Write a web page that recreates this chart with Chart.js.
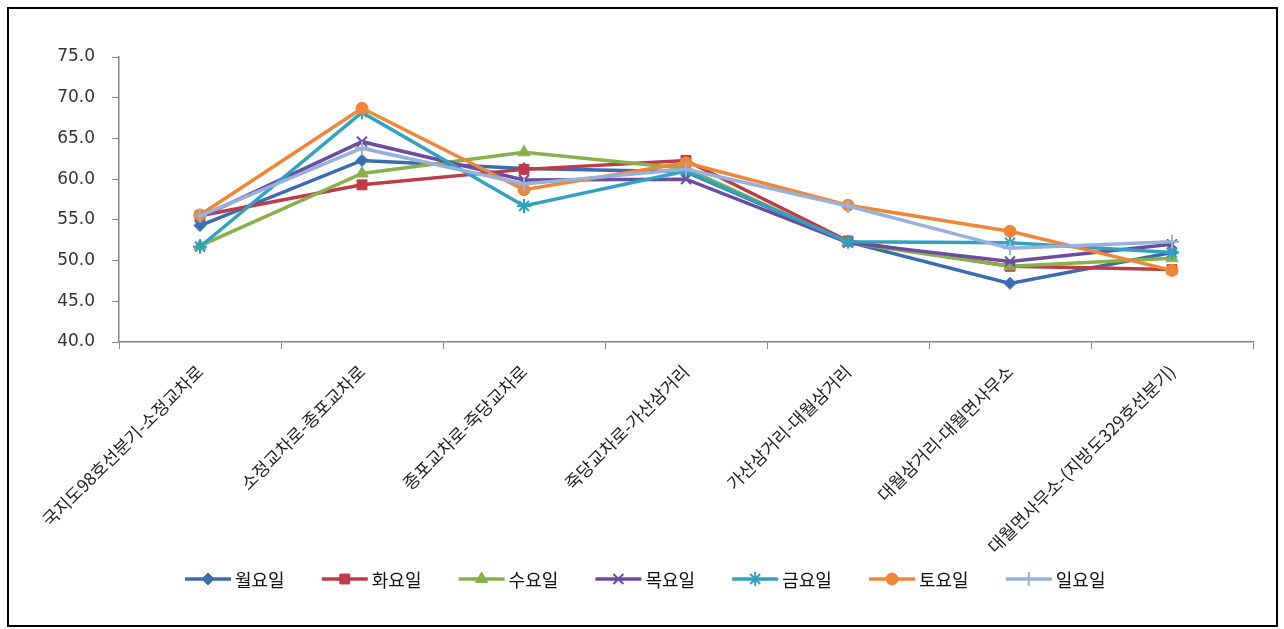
<!DOCTYPE html>
<html><head><meta charset="utf-8">
<script src="https://cdn.jsdelivr.net/npm/chart.js@4.4.1/dist/chart.umd.min.js"></script>
<style>
html,body{margin:0;padding:0;background:#fff;width:1284px;height:629px;overflow:hidden;}
#frame{position:absolute;left:7px;top:7px;width:1267px;height:616px;border:2px solid #000;}
#wrap{position:absolute;left:0;top:0;width:1284px;height:629px;}
</style></head>
<body>
<div id="frame"></div>
<div id="wrap"><canvas id="c" width="1284" height="629"></canvas></div>
<script>
const categories = ['국지도98호선분기-소정교차로','소정교차로-종포교차로','종포교차로-죽당교차로','죽당교차로-가산삼거리','가산삼거리-대월삼거리','대월삼거리-대월면사무소','대월면사무소-(지방도329호선분기)'];
const seriesNames = ['월요일','화요일','수요일','목요일','금요일','토요일','일요일'];
const mon = [54.3, 62.3, 61.3, 60.9, 52.3, 47.2, 51.0];
const tue = [55.5, 59.3, 61.2, 62.3, 52.4, 49.3, 48.9];
const wed = [51.8, 60.7, 63.3, 61.3, 52.2, 49.3, 50.3];
const thu = [55.3, 64.6, 59.9, 60.0, 52.2, 49.9, 52.0];
const fri = [51.7, 68.2, 56.7, 61.0, 52.3, 52.2, 51.0];
const sat = [55.6, 68.7, 58.7, 62.0, 56.8, 53.6, 48.8];
const sun = [55.5, 63.8, 59.4, 61.2, 56.7, 51.5, 52.3];
const yTicks = [40, 45, 50, 55, 60, 65, 70, 75];

const seriesData = [mon, tue, wed, thu, fri, sat, sun];
const colors = ['#3A6DB0','#BE3B48','#86B04A','#6A4D9E','#2FA2C2','#EF8636','#97B0DE'];
const styles = ['rectRot','rect','triangle','crossRot','star','circle','cross'];
const radii = [6, 7, 7, 7, 7, 6, 7];

const datasets = seriesData.map((d, i) => ({
  label: seriesNames[i],
  data: d,
  borderColor: colors[i],
  backgroundColor: colors[i],
  pointStyle: styles[i],
  pointRadius: radii[i],
  pointBorderWidth: (styles[i]==='crossRot'||styles[i]==='star'||styles[i]==='cross') ? 2 : 1,
  pointBorderColor: colors[i],
  pointBackgroundColor: colors[i],
  borderWidth: 3.5,
  tension: 0,
  order: -i
}));

const legendPlugin = {
  id: 'customLegend',
  afterDraw(chart) {
    const ctx = chart.ctx;
    const y = 579;
    const startX = 185;
    const step = 136.8;
    ctx.save();
    ctx.textBaseline = 'middle';
    ctx.textAlign = 'left';
    datasets.forEach((ds, i) => {
      const x = startX + i * step;
      ctx.strokeStyle = ds.borderColor;
      ctx.lineWidth = 3.5;
      ctx.beginPath();
      ctx.moveTo(x, y);
      ctx.lineTo(x + 46, y);
      ctx.stroke();
      ctx.fillStyle = ds.backgroundColor;
      ctx.strokeStyle = ds.borderColor;
      ctx.lineWidth = ds.pointBorderWidth;
      Chart.helpers.drawPoint(ctx, {pointStyle: ds.pointStyle, rotation: 0, borderWidth: ds.pointBorderWidth, radius: ds.pointRadius}, x + 23, y);
      ctx.font = '18px "Noto Sans CJK KR"';
      ctx.fillStyle = '#111';
      ctx.fillText(ds.label, x + 50, y + 1);
    });
    ctx.restore();
  }
};

new Chart(document.getElementById('c'), {
  type: 'line',
  data: { labels: categories, datasets },
  plugins: [legendPlugin],
  options: {
    responsive: false,
    animation: false,
    plugins: { legend: { display: false }, tooltip: { enabled: false } },
    layout: { padding: { top: 57, right: 31, bottom: 60, left: 0 } },
    scales: {
      x: {
        type: 'category',
        offset: true,
        grid: { display: true, drawOnChartArea: false, drawTicks: true, tickLength: 7, color: '#868686', offset: true },
        border: { display: true, color: '#868686', width: 1.5 },
        ticks: {
          autoSkip: false, maxRotation: 45, minRotation: 45,
          color: '#222', font: { family: '"Noto Sans CJK KR"', size: 17.5 }, padding: 12
        },
        afterFit(scale) { scale.height = 227; }
      },
      y: {
        min: 40, max: 75,
        afterBuildTicks(scale) { scale.ticks = yTicks.map(v => ({ value: v })); },
        grid: { display: true, drawOnChartArea: false, drawTicks: true, tickLength: 7, color: '#868686' },
        border: { display: true, color: '#868686', width: 1.5 },
        ticks: {
          color: '#333', font: { family: '"DejaVu Sans"', size: 17 }, padding: 17,
          callback: v => Number(v).toFixed(1)
        },
        afterFit(scale) { scale.width = 119; }
      }
    }
  }
});
</script>
</body></html>
